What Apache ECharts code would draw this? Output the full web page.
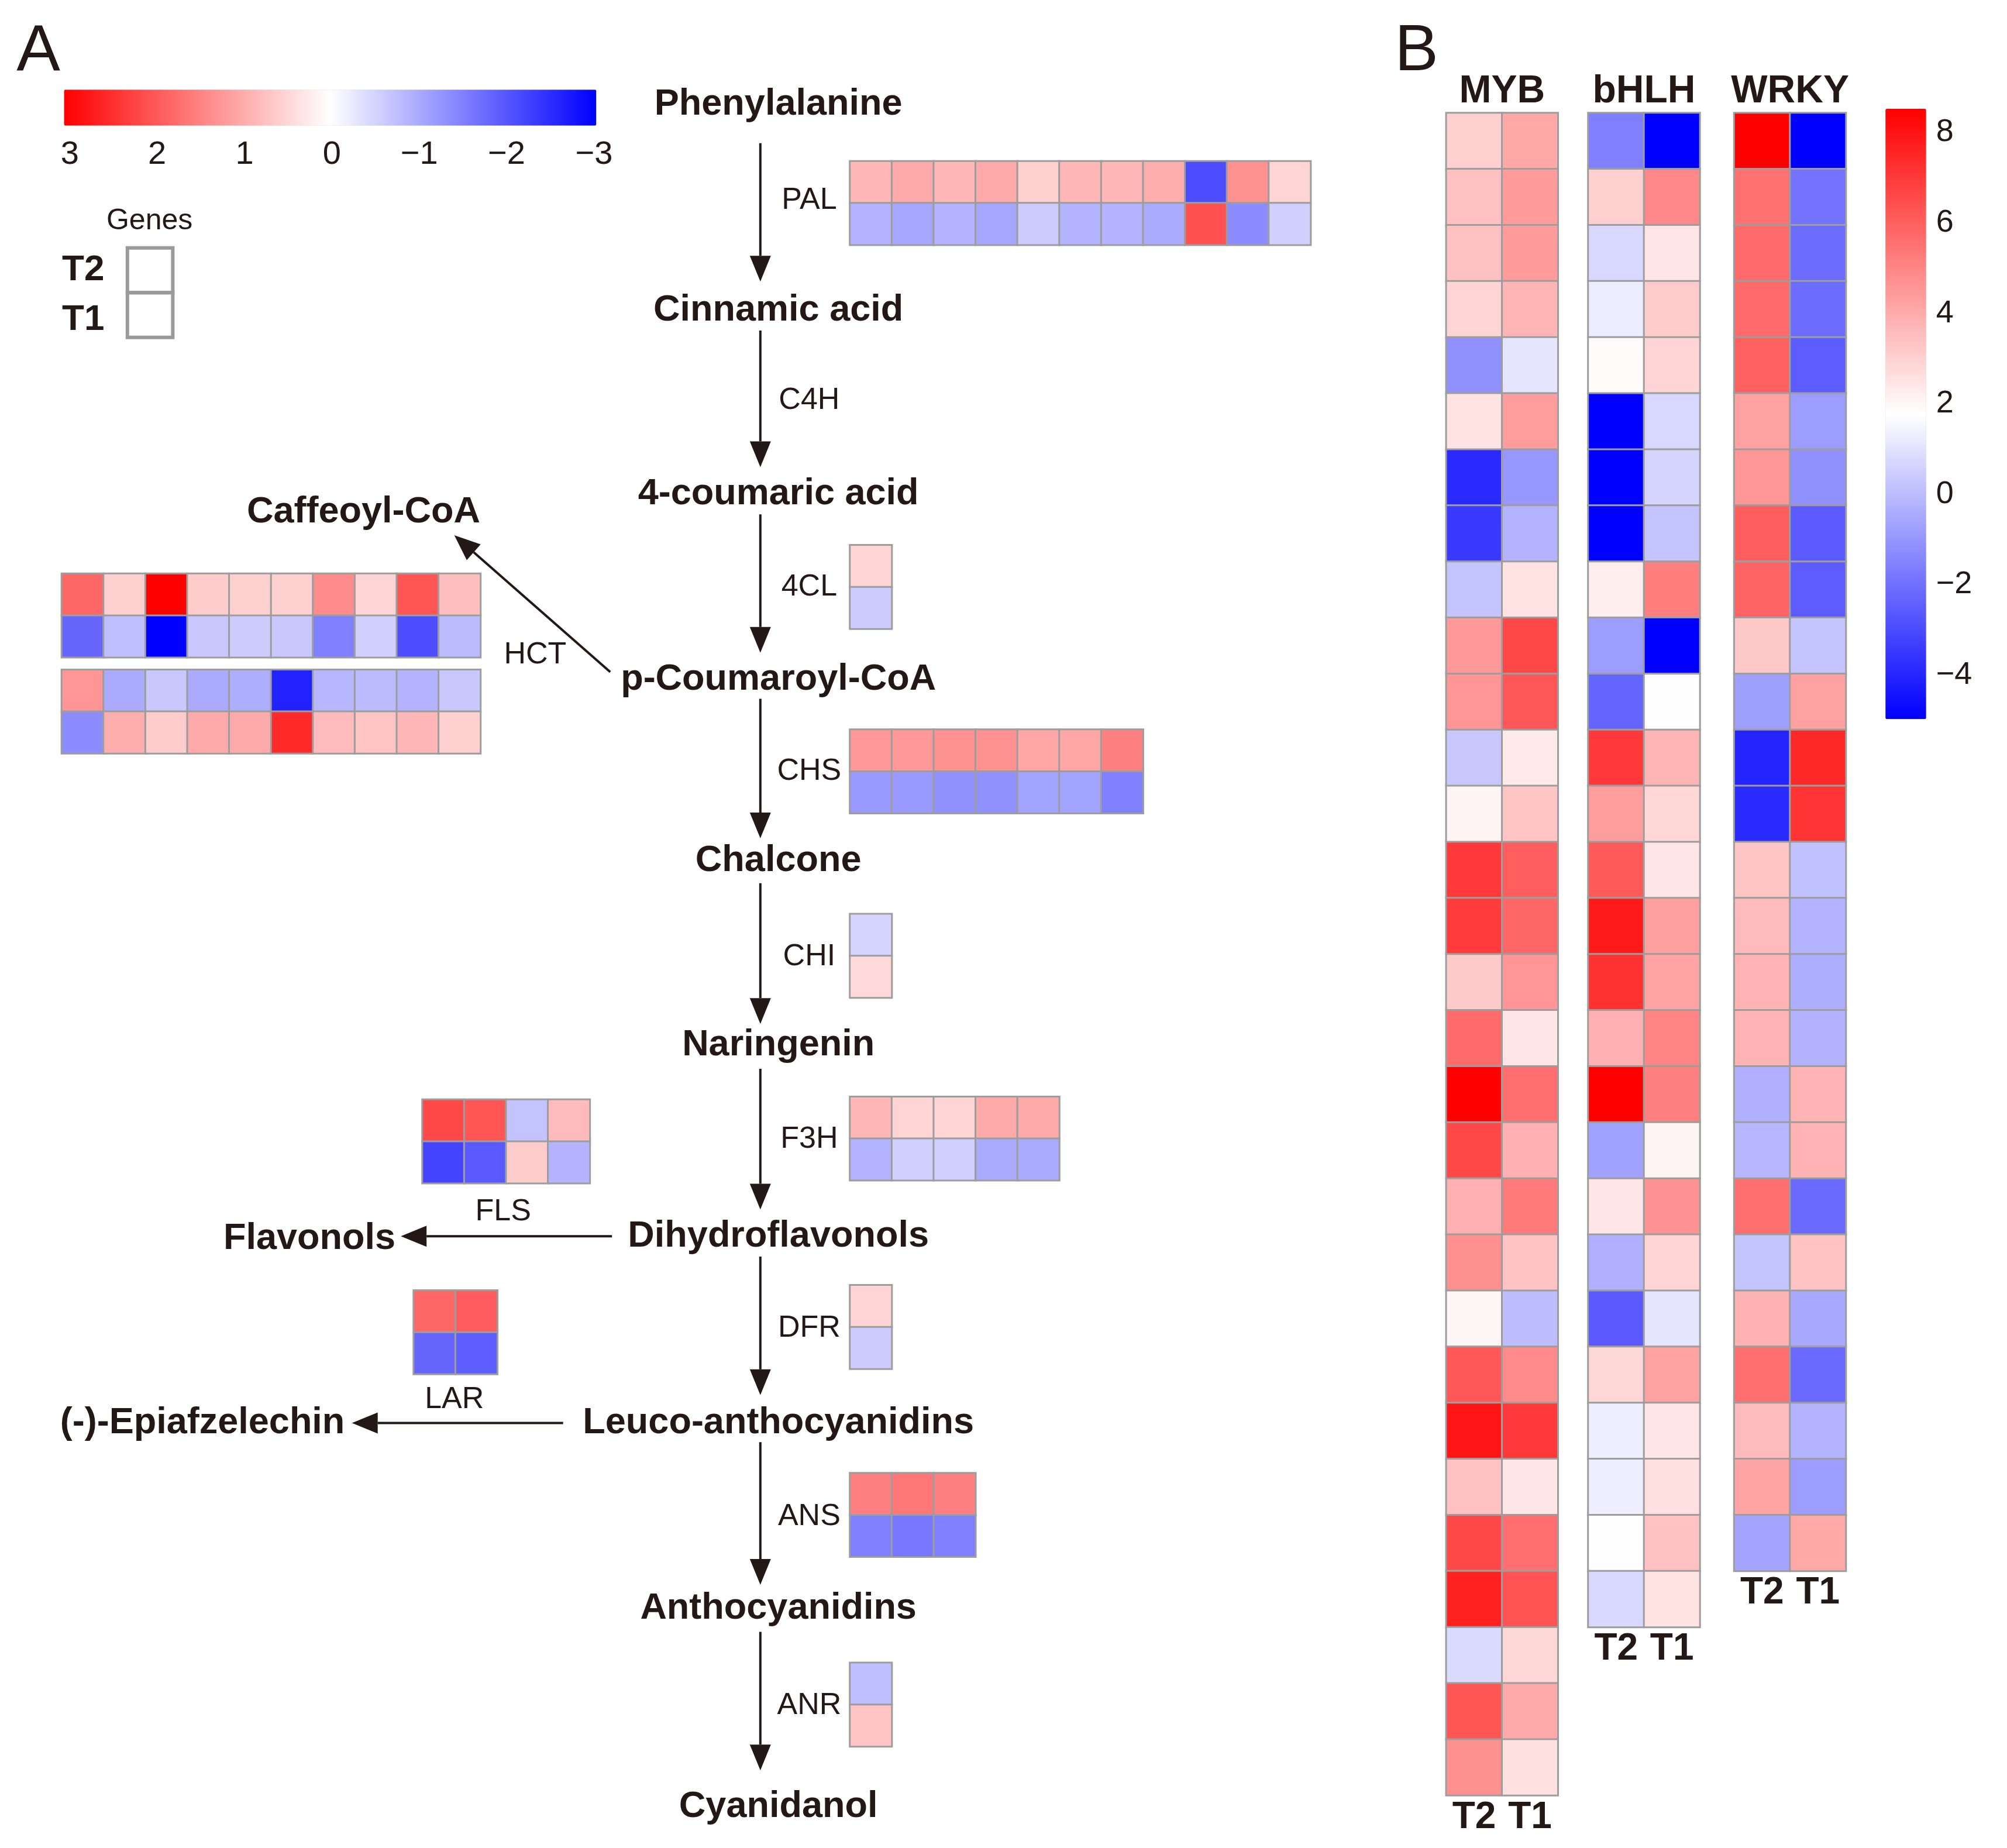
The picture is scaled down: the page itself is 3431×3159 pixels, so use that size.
<!DOCTYPE html>
<html><head><meta charset="utf-8">
<script src="https://cdn.jsdelivr.net/npm/echarts@6/dist/echarts.min.js"></script>
<style>html,body{margin:0;padding:0;background:#fff}#c{width:3431px;height:3159px}</style>
</head><body><div id="c"></div>
<script>
// ---------- Panel A data (rows: T2 on top, T1 below; one column per gene) ----------
const PAL_T2  = [0.85, 1.0, 0.85, 1.0, 0.55, 0.85, 0.85, 0.95, -2.1, 1.3, 0.5];
const PAL_T1  = [-0.9, -1.05, -0.9, -1.05, -0.6, -0.9, -0.9, -1.0, 2.05, -1.35, -0.55];
const C4CL_T2 = [0.5];
const C4CL_T1 = [-0.6];
const HCT1_T2 = [1.8, 0.55, 3.0, 0.6, 0.55, 0.55, 1.35, 0.5, 2.0, 0.75];
const HCT1_T1 = [-1.8, -0.75, -3.0, -0.65, -0.6, -0.65, -1.5, -0.55, -2.1, -0.8];
const HCT2_T2 = [1.25, -1.0, -0.65, -1.0, -0.95, -2.6, -0.85, -0.8, -0.9, -0.65];
const HCT2_T1 = [-1.35, 0.95, 0.6, 1.0, 1.0, 2.5, 0.8, 0.7, 0.85, 0.55];
const CHS_T2  = [1.2, 1.2, 1.3, 1.3, 1.05, 1.05, 1.5];
const CHS_T1  = [-1.2, -1.2, -1.3, -1.3, -1.1, -1.1, -1.5];
const CHI_T2  = [-0.5];
const CHI_T1  = [0.45];
const F3H_T2  = [0.85, 0.5, 0.5, 1.0, 1.0];
const F3H_T1  = [-0.9, -0.55, -0.55, -1.0, -1.0];
const FLS_T2  = [2.15, 2.0, -0.7, 0.8];
const FLS_T1  = [-2.2, -1.95, 0.6, -0.9];
const DFR_T2  = [0.5];
const DFR_T1  = [-0.6];
const LAR_T2  = [1.8, 1.9];
const LAR_T1  = [-1.8, -1.9];
const ANS_T2  = [1.5, 1.6, 1.5];
const ANS_T1  = [-1.5, -1.6, -1.5];
const ANR_T2  = [-0.75];
const ANR_T1  = [0.7];
const LEGEND_A_TICKS = [3, 2, 1, 0, -1, -2, -3];

// ---------- Panel B data (one row per transcription factor gene) ----------
const SAMPLES_B = ['T2', 'T1'];
const MYB_T2  = [3.0, 3.4, 3.4, 2.9, -1.2, 2.5, -3.9, -3.5, 0.2, 4.45, 4.55, 0.3, 2.05, 7.0, 6.95, 3.15, 5.7, 8.5, 6.6, 3.85, 4.7, 1.95, 6.2, 7.95, 3.4, 6.6, 7.65, 0.8, 6.25, 4.7];
const MYB_T1  = [4.05, 4.4, 4.4, 3.7, 1.05, 4.35, -1.0, -0.25, 2.5, 6.6, 6.2, 2.3, 3.3, 6.0, 5.8, 4.55, 2.4, 5.55, 3.85, 5.25, 3.35, 0.0, 4.85, 7.0, 2.4, 5.55, 6.3, 2.8, 4.0, 2.55];
const BHLH_T2 = [-1.6, 3.0, 0.7, 1.25, 1.85, -5.0, -5.0, -5.0, 2.2, -0.85, -2.35, 7.0, 4.35, 6.15, 7.8, 7.2, 3.85, 8.5, -0.75, 2.4, -0.35, -2.65, 2.8, 1.3, 1.3, 1.8, 0.7];
const BHLH_T1 = [-5.0, 4.9, 2.45, 3.1, 2.9, 0.7, 0.6, 0.2, 5.15, -5.0, 1.8, 3.7, 2.8, 2.4, 4.3, 4.15, 5.0, 5.1, 2.05, 4.6, 2.9, 1.05, 4.2, 2.4, 2.6, 3.4, 2.5];
const WRKY_T2 = [8.5, 5.5, 5.7, 5.7, 5.95, 4.25, 4.5, 6.0, 5.85, 3.2, -0.8, -4.05, -3.85, 3.3, 3.55, 3.75, 3.75, -0.35, -0.15, 5.55, 0.2, 3.8, 5.55, 3.55, 4.15, -0.65];
const WRKY_T1 = [-5.0, -1.95, -2.15, -2.15, -2.55, -0.85, -1.2, -2.6, -2.55, 0.2, 4.25, 7.45, 7.1, 0.1, -0.25, -0.4, -0.3, 3.75, 3.75, -2.2, 3.35, -0.55, -2.2, -0.25, -0.85, 4.05];
const LEGEND_B_TICKS = [8, 6, 4, 2, 0, -2, -4];

// ---------- layout / style ----------
const FONT = '"Liberation Sans", Arial, Helvetica, sans-serif';
const INK = '#231815';
const K = 0.9945;               // global layout scale
const k = v => v * K;
const CELL_A = 72;
const CELL_B_W = 96, CELL_B_H = 96.4;
const A_MIN = -3, A_MAX = 3, B_MIN = -5, B_MAX = 8.5;
const RAMP = ['#0000FF', '#FFFFFF', '#FF0000'];
const BORDER = '#9d9d9d';

const grids = [], xAxes = [], yAxes = [], series = [], graphics = [];

function heatA(name, t2, t1, left, top) {
  const gi = grids.length;
  grids.push({ left: k(left), top: k(top), width: k(t2.length * CELL_A), height: k(2 * CELL_A), outerBoundsMode: 'none' });
  xAxes.push({ type: 'category', gridIndex: gi, data: t2.map((_, i) => name + '-' + (i + 1)), show: false });
  yAxes.push({ type: 'category', gridIndex: gi, data: ['T1', 'T2'], show: false });
  const data = [];
  t2.forEach((v, i) => data.push([i, 1, v]));
  t1.forEach((v, i) => data.push([i, 0, v]));
  series.push({ type: 'heatmap', name, xAxisIndex: gi, yAxisIndex: gi, data,
    itemStyle: { borderColor: BORDER, borderWidth: 3 }, emphasis: { disabled: true } });
}
function heatB(name, t2, t1, left, top) {
  const gi = grids.length;
  grids.push({ left: k(left), top: k(top), width: k(2 * CELL_B_W), height: k(t2.length * CELL_B_H), outerBoundsMode: 'none' });
  xAxes.push({ type: 'category', gridIndex: gi, data: SAMPLES_B, position: 'bottom',
    axisLine: { show: false }, axisTick: { show: false },
    axisLabel: { show: true, interval: 0, hideOverlap: false, margin: 6, fontSize: 64, fontWeight: 'bold', fontFamily: FONT, color: INK } });
  yAxes.push({ type: 'category', gridIndex: gi, inverse: true, data: t2.map((_, i) => name + '-' + (i + 1)), show: false });
  const data = [];
  t2.forEach((v, i) => data.push([0, i, v]));
  t1.forEach((v, i) => data.push([1, i, v]));
  series.push({ type: 'heatmap', name, xAxisIndex: gi, yAxisIndex: gi, data,
    itemStyle: { borderColor: BORDER, borderWidth: 3 }, emphasis: { disabled: true } });
}

heatA('PAL', PAL_T2, PAL_T1, 1461, 277);
heatA('4CL', C4CL_T2, C4CL_T1, 1461, 937);
heatA('HCT-a', HCT1_T2, HCT1_T1, 106, 986);
heatA('HCT-b', HCT2_T2, HCT2_T1, 106, 1151);
heatA('CHS', CHS_T2, CHS_T1, 1461, 1254);
heatA('CHI', CHI_T2, CHI_T1, 1461, 1571);
heatA('F3H', F3H_T2, F3H_T1, 1461, 1885);
heatA('FLS', FLS_T2, FLS_T1, 726, 1890);
heatA('DFR', DFR_T2, DFR_T1, 1461, 2209);
heatA('LAR', LAR_T2, LAR_T1, 711, 2218);
heatA('ANS', ANS_T2, ANS_T1, 1461, 2532);
heatA('ANR', ANR_T2, ANR_T1, 1461, 2858);
const nA = series.length;
heatB('MYB', MYB_T2, MYB_T1, 2486, 194);
heatB('bHLH', BHLH_T2, BHLH_T1, 2730, 194);
heatB('WRKY', WRKY_T2, WRKY_T1, 2981, 194);
const idxA = [...Array(nA).keys()];
const idxB = [nA, nA + 1, nA + 2];

// ---------- text / arrow helpers ----------
const TDY = 4;
function txt(text, x, y, size, weight, align) {
  graphics.push({ type: 'text', x: k(x), y: k(y + TDY), silent: true,
    style: { text, fill: INK, fontSize: size, fontWeight: weight || 'normal', fontFamily: FONT,
      align: align || 'center', verticalAlign: 'middle' } });
}
function arrow(x1, y1, x2, y2) {
  x1 = k(x1); y1 = k(y1); x2 = k(x2); y2 = k(y2);
  const dx = x2 - x1, dy = y2 - y1, L = Math.hypot(dx, dy);
  const ux = dx / L, uy = dy / L, head = 44, hw = 18;
  const bx = x2 - ux * head, by = y2 - uy * head;
  graphics.push({ type: 'line', silent: true, shape: { x1, y1, x2: bx, y2: by }, style: { stroke: INK, lineWidth: 4 } });
  graphics.push({ type: 'polygon', silent: true,
    shape: { points: [[x2, y2], [bx - uy * hw, by + ux * hw], [bx + uy * hw, by - ux * hw]] }, style: { fill: INK } });
}

// panel letters
txt('A', 66, 86, 112, 'normal');
txt('B', 2435, 86, 112, 'normal');

// main pathway
const MX = 1338, AX = 1307;
[['Phenylalanine', 176], ['Cinnamic acid', 530], ['4-coumaric acid', 845], ['p-Coumaroyl-CoA', 1164],
 ['Chalcone', 1476], ['Naringenin', 1793], ['Dihydroflavonols', 2121], ['Leuco-anthocyanidins', 2442],
 ['Anthocyanidins', 2761], ['Cyanidanol', 3102]].forEach(([t, y]) => txt(t, MX, y, 63, 'bold'));
txt('Caffeoyl-CoA', 625, 876, 63, 'bold');
txt('Flavonols', 532, 2125, 63, 'bold');
txt('(-)-Epiafzelechin', 348, 2442, 63, 'bold');

[[246, 484], [568, 803], [884, 1122], [1201, 1441], [1518, 1760], [1837, 2079], [2160, 2398], [2479, 2724], [2805, 3043]]
  .forEach(([a, b]) => arrow(AX, a, AX, b));
arrow(1052, 2125, 689, 2125);
arrow(968, 2446, 605, 2446);
arrow(1049, 1155, 781, 920);

// enzyme labels
[['PAL', 341], ['C4H', 684], ['4CL', 1005], ['CHS', 1322], ['CHI', 1641], ['F3H', 1954],
 ['DFR', 2279], ['ANS', 2603], ['ANR', 2928]].forEach(([t, y]) => txt(t, 1391, y, 52));
txt('HCT', 920, 1122, 52);
txt('FLS', 865, 2079, 52);
txt('LAR', 781, 2402, 52);

// panel A legend
const LA = { left: 110, top: 154, len: 915, thick: 62 };
LEGEND_A_TICKS.forEach(v => {
  const x = LA.left + 10 + (A_MAX - v) / (A_MAX - A_MIN) * (LA.len - 14);
  txt(v < 0 ? '\u2212' + Math.abs(v) : String(v), x, 262, 56);
});
txt('Genes', 257, 376, 50);
txt('T2', 143, 460, 62, 'bold');
txt('T1', 143, 546, 62, 'bold');
graphics.push({ type: 'rect', silent: true, shape: { x: k(219), y: k(426), width: k(78), height: k(77) }, style: { fill: 'none', stroke: '#9a9a9a', lineWidth: 6 } });
graphics.push({ type: 'rect', silent: true, shape: { x: k(219), y: k(503), width: k(78), height: k(77) }, style: { fill: 'none', stroke: '#9a9a9a', lineWidth: 6 } });

// panel B titles and colorbar ticks
txt('MYB', 2582, 154, 66, 'bold');
txt('bHLH', 2826, 154, 66, 'bold');
txt('WRKY', 3077, 154, 66, 'bold');
const LB = { left: 3241, top: 187, len: 1049, thick: 70 };
LEGEND_B_TICKS.forEach(v => {
  const y = LB.top + (B_MAX - v) / (B_MAX - B_MIN) * LB.len;
  txt(v < 0 ? '\u2212' + Math.abs(v) : String(v), 3328, y - TDY + 2, 54, 'normal', 'left');
});

const option = {
  animation: false,
  backgroundColor: '#ffffff',
  grid: grids, xAxis: xAxes, yAxis: yAxes, series,
  visualMap: [
    { type: 'continuous', seriesIndex: idxA, min: A_MIN, max: A_MAX, orient: 'horizontal', inverse: true,
      left: k(LA.left), top: k(LA.top), itemWidth: k(LA.thick), itemHeight: k(LA.len), padding: 0,
      calculable: false, hoverLink: false, realtime: false, inRange: { color: RAMP } },
    { type: 'continuous', seriesIndex: idxB, min: B_MIN, max: B_MAX, orient: 'vertical',
      left: k(LB.left), top: k(LB.top), itemWidth: k(LB.thick), itemHeight: k(LB.len), padding: 0,
      calculable: false, hoverLink: false, realtime: false, inRange: { color: RAMP } }
  ],
  graphic: { elements: graphics }
};
const chart = echarts.init(document.getElementById('c'), null, { renderer: 'canvas' });
chart.setOption(option);
</script></body></html>
